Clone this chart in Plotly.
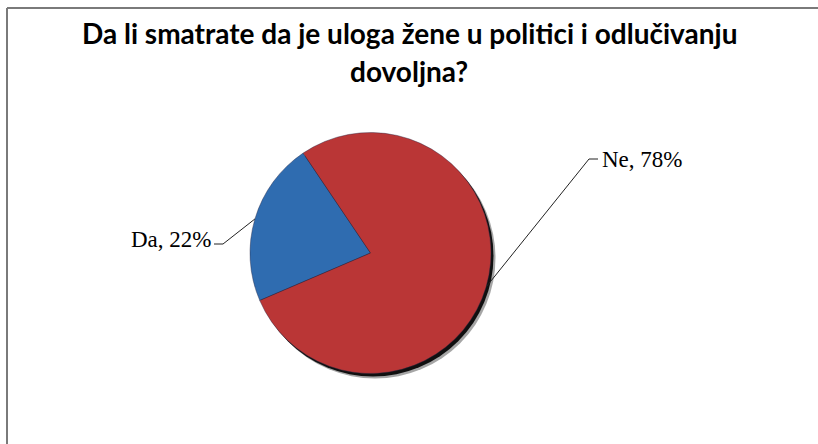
import math
import plotly.graph_objects as go

# ---- data ----
categories = ["Da", "Ne"]
values = [22, 78]
colors = ["#2F6CB0", "#BA3636"]
title_lines = ["Da li smatrate da je uloga žene u politici i odlučivanju", "dovoljna?"]

# ---- layout constants (px) ----
W, H = 818, 444
CX, CY, R = 370.5, 253.0, 120.5
START_CCW = 34.0  # first slice starts 34 deg counter-clockwise from 12 o'clock
label_anchor = {"Da": (223, 244), "Ne": (589, 159)}
label_side = {"Da": "right", "Ne": "left"}


def px(x):
    return x / W


def py(y):
    return 1 - y / H


def dom(dx=0.0, dy=0.0):
    return dict(x=[px(CX - R + dx), px(CX + R + dx)],
                y=[py(CY + R + dy), py(CY - R + dy)])


total = sum(values)
first_span = 360.0 * values[0] / total

fig = go.Figure()

# soft shadow layers
fig.add_trace(go.Pie(values=[1], marker=dict(colors=["rgba(0,0,0,0.35)"]),
                     domain=dom(4.5, 5.0), textinfo="none", hoverinfo="skip",
                     showlegend=False, sort=False))
fig.add_trace(go.Pie(values=[1], marker=dict(colors=["rgba(0,0,0,0.9)"]),
                     domain=dom(2.5, 3.0), textinfo="none", hoverinfo="skip",
                     showlegend=False, sort=False))

# plotly: with counterclockwise the first slice ends at `rotation`
fig.add_trace(go.Pie(
    labels=categories, values=values, sort=False,
    direction="counterclockwise", rotation=-(START_CCW + first_span),
    marker=dict(colors=colors, line=dict(color="rgba(40,40,70,0.6)", width=0.7)),
    domain=dom(), textinfo="none", hoverinfo="label+percent", showlegend=False,
))

shapes = []
annotations = []
acc = START_CCW
for cat, v in zip(categories, values):
    span = 360.0 * v / total
    mid = math.radians(acc + span / 2)  # ccw from top
    acc += span
    ex = CX - R * math.sin(mid)
    ey = CY - R * math.cos(mid)
    ax, ay = label_anchor[cat]
    side = label_side[cat]
    hx = ax - 9 if side == "right" else ax + 9
    shapes.append(dict(type="path", xref="paper", yref="paper",
                       path=f"M {px(ex)} {py(ey)} L {px(ax)} {py(ay)} L {px(hx)} {py(ay)}",
                       line=dict(color="#222222", width=1)))
    pct = round(100 * v / total)
    annotations.append(dict(
        text=f"{cat}, {pct}%", xref="paper", yref="paper",
        x=px(hx + (-1 if side == "right" else 2)), y=py(ay - (5 if side == "right" else 0)),
        xanchor=side, yanchor="middle", showarrow=False,
        font=dict(family="Liberation Serif", size=23, color="#000000"),
    ))

# title (two lines)
title_y = [33, 71.5]
for t, ty in zip(title_lines, title_y):
    annotations.append(dict(
        text=f"<b>{t}</b>", xref="paper", yref="paper", x=0.5, y=py(ty),
        xanchor="center", yanchor="middle", showarrow=False,
        font=dict(family="Lato", size=28, color="#000000"),
    ))

# chart area border: only top and left edges are inside the picture
shapes.append(dict(type="line", xref="paper", yref="paper",
                   x0=px(7), x1=1, y0=py(8), y1=py(8),
                   line=dict(color="#7a7a7a", width=2)))
shapes.append(dict(type="line", xref="paper", yref="paper",
                   x0=px(7), x1=px(7), y0=0, y1=py(8),
                   line=dict(color="#7a7a7a", width=2)))

fig.update_layout(
    width=W, height=H, margin=dict(l=0, r=0, t=0, b=0),
    paper_bgcolor="white", plot_bgcolor="white",
    shapes=shapes, annotations=annotations, showlegend=False,
)

fig.write_html("out.html")
